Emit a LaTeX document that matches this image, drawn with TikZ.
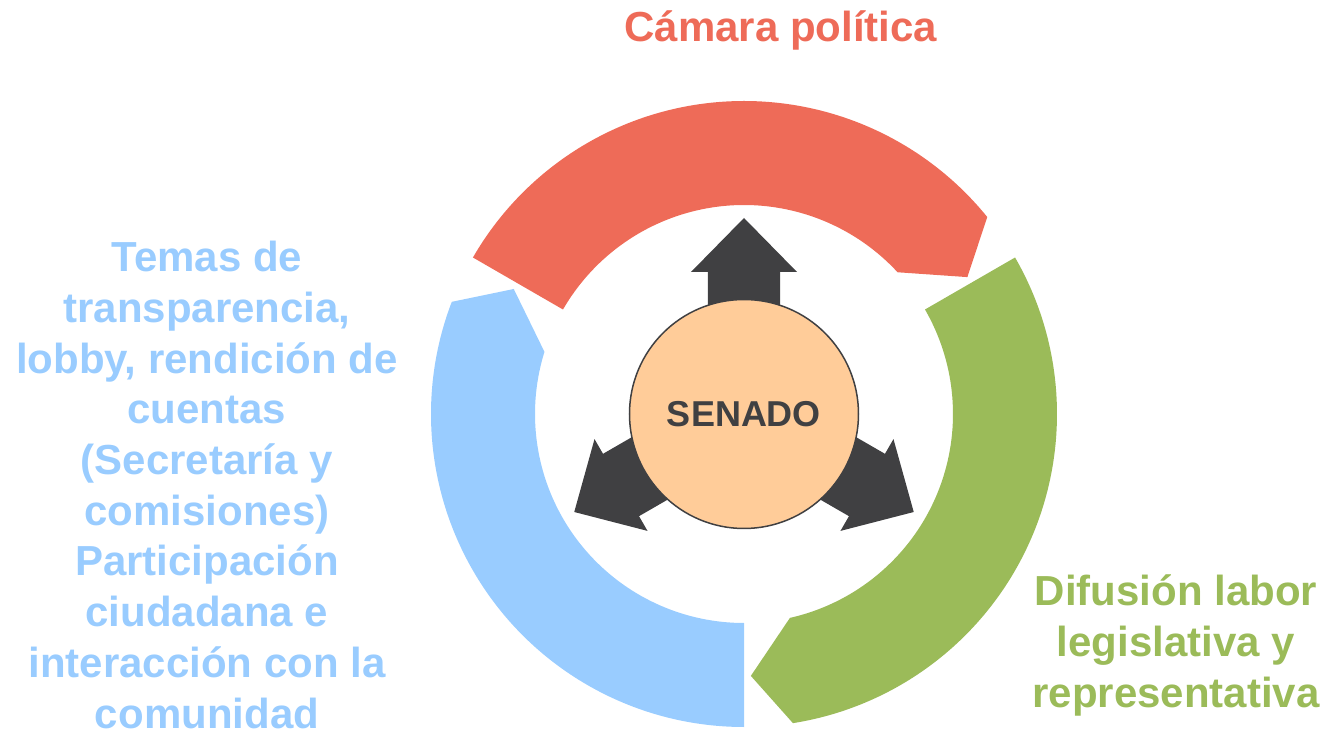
\documentclass[tikz,border=0pt]{standalone}
\usepackage{fontspec}
\setmainfont{Liberation Sans}
\usepackage{tikz}
\definecolor{camarared}{RGB}{238,107,88}
\definecolor{difusiongreen}{RGB}{155,187,89}
\definecolor{temasblue}{RGB}{153,204,255}
\definecolor{senadopeach}{RGB}{255,204,153}
\definecolor{arrowgray}{RGB}{64,64,66}
\tikzset{
    %Define style for the centre circle
    centre/.style={
           circle,
           draw=arrowgray, line width=1.5pt,
           minimum size=229pt,
           inner sep=0pt,
           font=\fontsize{36}{40}\selectfont\bfseries,
           text=arrowgray,
           text centered,
           fill=senadopeach},
    %Define style for the side labels
    label text/.style={
           inner sep=0pt,
           align=center,
           font=\fontsize{42}{50.7}\selectfont\bfseries},
    % Define style for the fat arrows
    fat arrow/.style={
           fill=arrowgray}
}
% one piece of the ring: #1 start angle, #2 colour
\newcommand{\ringpart}[2]{%
  \fill[#2] (#1:313) arc[start angle=#1, end angle=#1-111, radius=313]
    -- (#1-118.5:262) -- (#1-107.3:209)
    arc[start angle=#1-107.3, end angle=#1, radius=209] -- cycle;}
\begin{document}
\begin{tikzpicture}[x=1pt,y=1pt]
\useasboundingbox (-744,-319) rectangle (578,414);
\coordinate (ctr) at (0,0);
% the ring
\ringpart{150}{camarared}
\ringpart{30}{difusiongreen}
\ringpart{-90}{temasblue}
% arrows out of the centre
\foreach \a in {90,-30,210}
  \fill[fat arrow, rotate=\a-90] (-36,0) -- (-36,142) -- (-53,142) -- (0,196)
    -- (53,142) -- (36,142) -- (36,0) -- cycle;
\node[centre](senado) at (ctr){SENADO};
% labels (base = baseline of the last line)
\node[label text, text=camarared, anchor=base](camara) at (37,372){Cámara política};
\node[label text, text=temasblue, anchor=base](temas) at (-537,-314){Temas de\\transparencia,\\lobby, rendición de\\cuentas\\(Secretaría y\\comisiones)\\Participación\\ciudadana e\\interacción con la\\comunidad};
\node[label text, text=difusiongreen, anchor=base](difusion) at (432,-293){Difusión labor\\legislativa y\\representativa};
\end{tikzpicture}
\end{document}
